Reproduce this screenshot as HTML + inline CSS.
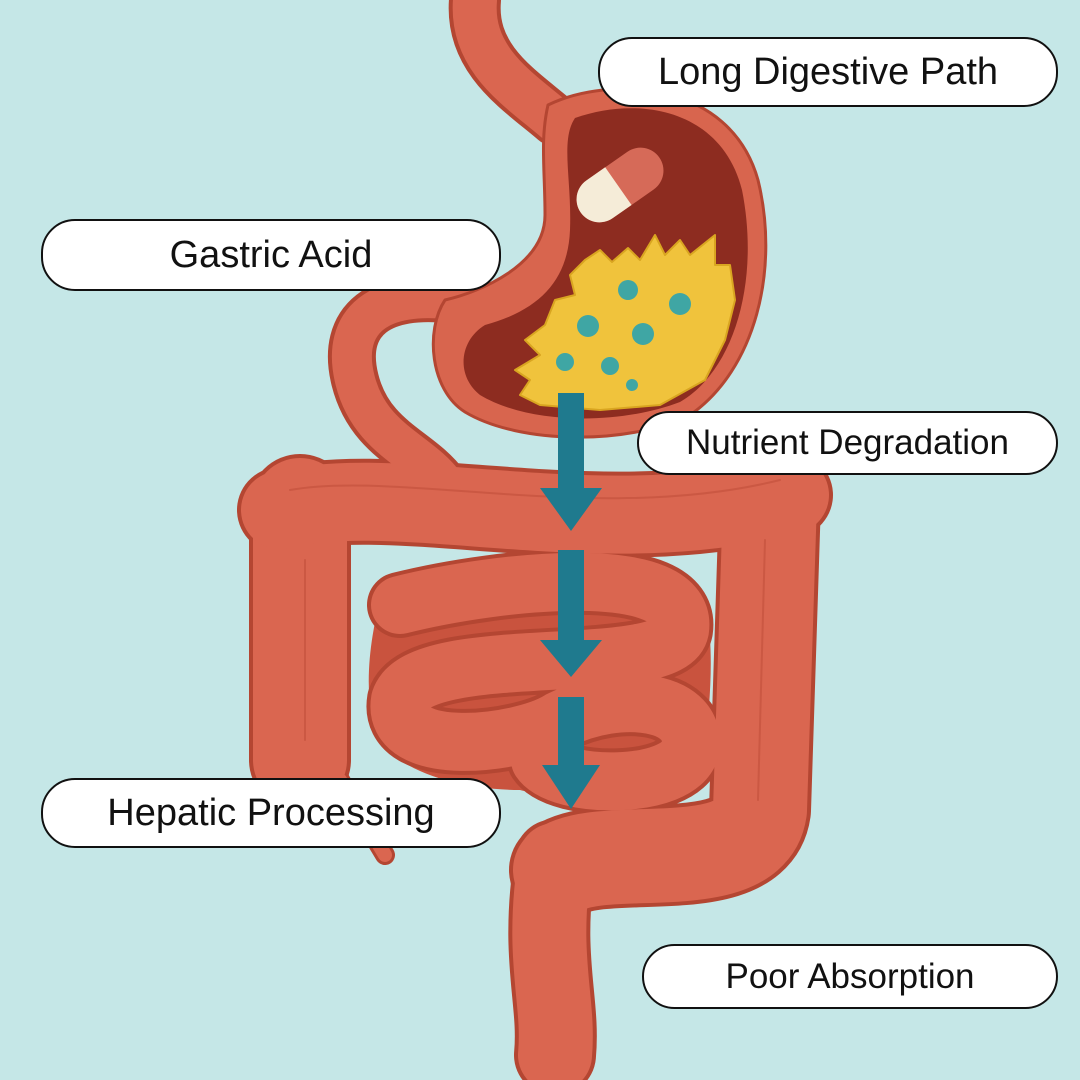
<!DOCTYPE html>
<html><head><meta charset="utf-8"><style>
body{margin:0;width:1080px;height:1080px;background:#c5e7e7;overflow:hidden;position:relative;font-family:"Liberation Sans",sans-serif}
.l{position:absolute;background:#fff;border:2px solid #111;border-radius:34px;display:flex;align-items:center;justify-content:center;color:#111;box-sizing:border-box}
</style></head><body>
<svg width="1080" height="1080" style="position:absolute;left:0;top:0" fill="none" stroke-linecap="round" stroke-linejoin="round">
<path d="M380,600 C420,560 690,545 705,600 C715,650 710,700 705,750 C690,800 560,800 520,790 C460,790 380,770 372,720 C365,680 370,640 380,600 Z" fill="#c9533e"/>
<g stroke="#b44632">
<path d="M475,0 C470,60 520,90 555,120" stroke-width="52"/>
<path d="M455,300 C380,290 340,320 355,380 C370,440 420,450 445,485" stroke-width="48"/>
<path d="M300,505 L300,760" stroke-width="102"/>
<path d="M340,780 L385,855" stroke-width="20"/>
<path d="M280,510 C400,480 600,545 790,495" stroke-width="86"/>
<path d="M770,500 L760,810 C750,880 600,840 560,870" stroke-width="102"/>
<path d="M555,860 C540,960 560,1000 555,1055" stroke-width="82"/>
<path d="M400,605 C500,580 690,560 680,630 C670,680 420,640 400,700 C390,760 520,745 560,720 C620,690 700,700 690,750 C680,790 560,790 540,760" stroke-width="66"/>
</g>
<g stroke="#da6650">
<path d="M475,0 C470,60 520,90 555,120" stroke-width="44"/>
<path d="M455,300 C380,290 340,320 355,380 C370,440 420,450 445,485" stroke-width="40"/>
<path d="M300,505 L300,760" stroke-width="94"/>
<path d="M340,780 L385,855" stroke-width="14"/>
<path d="M280,510 C400,480 600,545 790,495" stroke-width="78"/>
<path d="M770,500 L760,810 C750,880 600,840 560,870" stroke-width="94"/>
<path d="M555,860 C540,960 560,1000 555,1055" stroke-width="74"/>
<path d="M400,605 C500,580 690,560 680,630 C670,680 420,640 400,700 C390,760 520,745 560,720 C620,690 700,700 690,750 C680,790 560,790 540,760" stroke-width="58"/>
</g>
<g stroke="#c4523d" stroke-width="2" opacity="0.7">
<path d="M290,490 C400,470 600,525 780,480"/>
<path d="M305,560 L305,740"/><path d="M765,540 L758,800"/>
</g>
<path d="M548,105 C610,75 730,80 758,180 C780,270 755,370 690,415 C630,445 520,445 465,412 C430,390 425,330 445,300 C480,292 545,265 545,215 C545,170 540,140 548,105 Z" fill="#d8654e" stroke="#b44632" stroke-width="3"/>
<path d="M575,118 C640,95 722,110 742,190 C760,280 735,370 680,402 C620,425 530,425 480,395 C455,375 460,340 485,325 C540,310 568,280 570,230 C572,180 560,140 575,118 Z" fill="#8d2c20"/>
<g transform="rotate(-35 620 185)">
<rect x="572" y="162" width="96" height="46" rx="23" fill="#d66a58"/>
<path d="M595,162 L618,162 L618,208 L595,208 A23,23 0 0 1 595,162 Z" fill="#f5ecd8"/>
</g>
<path d="M585,260 L600,250 L612,262 L628,248 L640,260 L655,235 L665,255 L680,240 L690,255 L715,235 L715,265 L730,265 L735,300 L725,340 L705,380 L660,405 L600,410 L540,405 L520,395 L530,380 L515,370 L540,355 L525,340 L545,325 L555,300 L575,295 L570,275 Z" fill="#f0c33c" stroke="#d9a520" stroke-width="2"/>
<g fill="#3fa6a4"><circle cx="628" cy="290" r="10"/><circle cx="680" cy="304" r="11"/><circle cx="588" cy="326" r="11"/><circle cx="643" cy="334" r="11"/><circle cx="565" cy="362" r="9"/><circle cx="610" cy="366" r="9"/><circle cx="632" cy="385" r="6"/></g>
<g fill="#1f7a8e">
<rect x="558" y="393" width="26" height="97"/><polygon points="540,488 602,488 571,531"/>
<rect x="558" y="550" width="26" height="92"/><polygon points="540,640 602,640 571,677"/>
<rect x="558" y="697" width="26" height="70"/><polygon points="542,765 600,765 571,809"/>
</g>
</svg>
<div class="l" style="left:598px;top:37px;width:460px;height:70px;font-size:38px">Long Digestive Path</div>
<div class="l" style="left:41px;top:219px;width:460px;height:72px;font-size:38px">Gastric Acid</div>
<div class="l" style="left:637px;top:411px;width:421px;height:64px;font-size:35px">Nutrient Degradation</div>
<div class="l" style="left:41px;top:778px;width:460px;height:70px;font-size:38px">Hepatic Processing</div>
<div class="l" style="left:642px;top:944px;width:416px;height:65px;font-size:35px">Poor Absorption</div>
</body></html>
